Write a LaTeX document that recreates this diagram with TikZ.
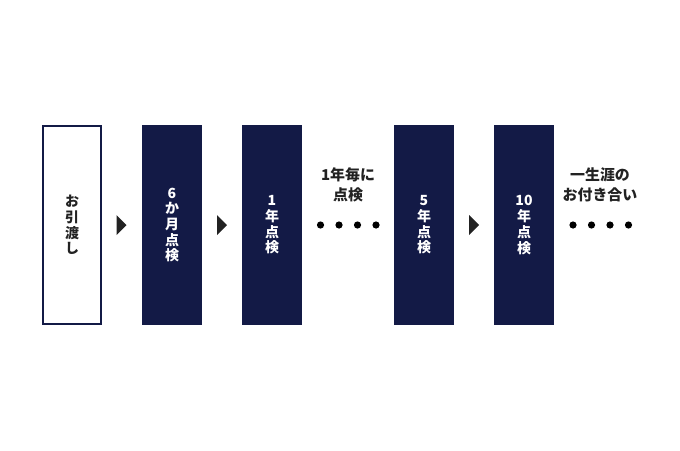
\documentclass[tikz,border=0pt]{standalone}
\usepackage{fontspec}
\setmainfont{Noto Sans CJK JP}
\usetikzlibrary{calc}
\definecolor{navy}{HTML}{131A46}
\definecolor{ink}{HTML}{222222}

\begin{document}
\begin{tikzpicture}[x=0.75pt,y=-0.75pt]
	\useasboundingbox (0,0) rectangle (680,450);

	\begin{scope}[every node/.style={rectangle, outer sep=0pt, inner sep=0pt,
	              minimum width=45pt, minimum height=150pt, align=center,
	              font=\bfseries\fontsize{10.5}{11.8}\selectfont}]
		\node[draw=navy, line width=1.5pt, minimum width=43.5pt,
		      minimum height=148.5pt, text=ink] (1) at (72,225) {お\\引\\渡\\し};
		\node[fill=navy, text=white] (2) at (172,225) {6\\か\\月\\点\\検};
		\node[fill=navy, text=white] (3) at (272,225) {1\\年\\点\\検};
		\node[fill=navy, text=white] (4) at (424,225) {5\\年\\点\\検};
		\node[fill=navy, text=white] (5) at (524,225) {10\\年\\点\\検};
	\end{scope}

	\begin{scope}[every node/.style={text=ink, align=center,
	              font=\bfseries\fontsize{11.2}{15}\selectfont}]
		\node (a) at (348,185) {1年毎に\\点検};
		\node (b) at (600,185) {一生涯の\\お付き合い};
	\end{scope}

	\begin{scope}[every node/.style={circle, fill=black, inner sep=0pt, minimum size=5.4pt}]
		\foreach \i in {0,1,2,3}
		{\node (d\i) at (320.5+\i*18.5,225) {};
		 \node (e\i) at (573+\i*18.5,225) {};}
	\end{scope}

	\foreach \a/\b in {1/2,2/3,4/5}
	{\coordinate (t\a) at ($(\a.east)!0.5!(\b.west)$);
	 \fill[ink] ($(t\a)+(-5,-10)$) -- ($(t\a)+(5,0)$) -- ($(t\a)+(-5,10)$) -- cycle;}
\end{tikzpicture}
\end{document}
